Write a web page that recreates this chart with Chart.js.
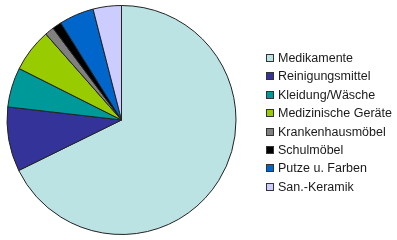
<!DOCTYPE html>
<html><head><meta charset="utf-8">
<script src="https://cdn.jsdelivr.net/npm/chart.js@4/dist/chart.umd.min.js"></script>
<style>html,body{margin:0;padding:0;background:#fff}#c{display:block}</style>
</head><body>
<canvas id="c" width="397" height="240"></canvas>
<script>
const categories = ["Medikamente","Reinigungsmittel","Kleidung/Wäsche","Medizinische Geräte","Krankenhausmöbel","Schulmöbel","Putze u. Farben","San.-Keramik"];
const values = [67.8, 9.1, 5.6, 6.1, 1.3, 1.3, 4.9, 4.0];
const colors = ["#BCE3E4","#333399","#009999","#99CC00","#808080","#000000","#0066CC","#CCCCFF"];

const legendPlugin = {
  id: 'customLegend',
  afterDraw(chart) {
    const ctx = chart.ctx;
    const labels = chart.data.labels;
    const bg = chart.data.datasets[0].backgroundColor;
    ctx.save();
    ctx.font = '12.5px "Liberation Sans", Arial, sans-serif';
    ctx.textBaseline = 'middle';
    const x0 = 266, y0 = 58, step = 18.4;
    labels.forEach((lab, i) => {
      const y = Math.round(y0 + i * step);
      ctx.fillStyle = bg[i];
      ctx.fillRect(x0 + 0.5, y - 3.5, 7, 7);
      ctx.strokeStyle = '#333';
      ctx.lineWidth = 1;
      ctx.strokeRect(x0 + 0.5, y - 3.5, 7, 7);
      ctx.fillStyle = '#1a1a1a';
      ctx.fillText(lab, x0 + 12, y + 0.5);
    });
    ctx.restore();
  }
};

new Chart(document.getElementById('c'), {
  type: 'pie',
  data: {
    labels: categories,
    datasets: [{
      data: values,
      backgroundColor: colors,
      borderColor: '#222',
      borderWidth: 1
    }]
  },
  options: {
    responsive: false,
    animation: false,
    layout: { padding: { left: 6, right: 160, top: 5, bottom: 5 } },
    plugins: { legend: { display: false }, tooltip: { enabled: false } }
  },
  plugins: [legendPlugin]
});
</script>
</body></html>
